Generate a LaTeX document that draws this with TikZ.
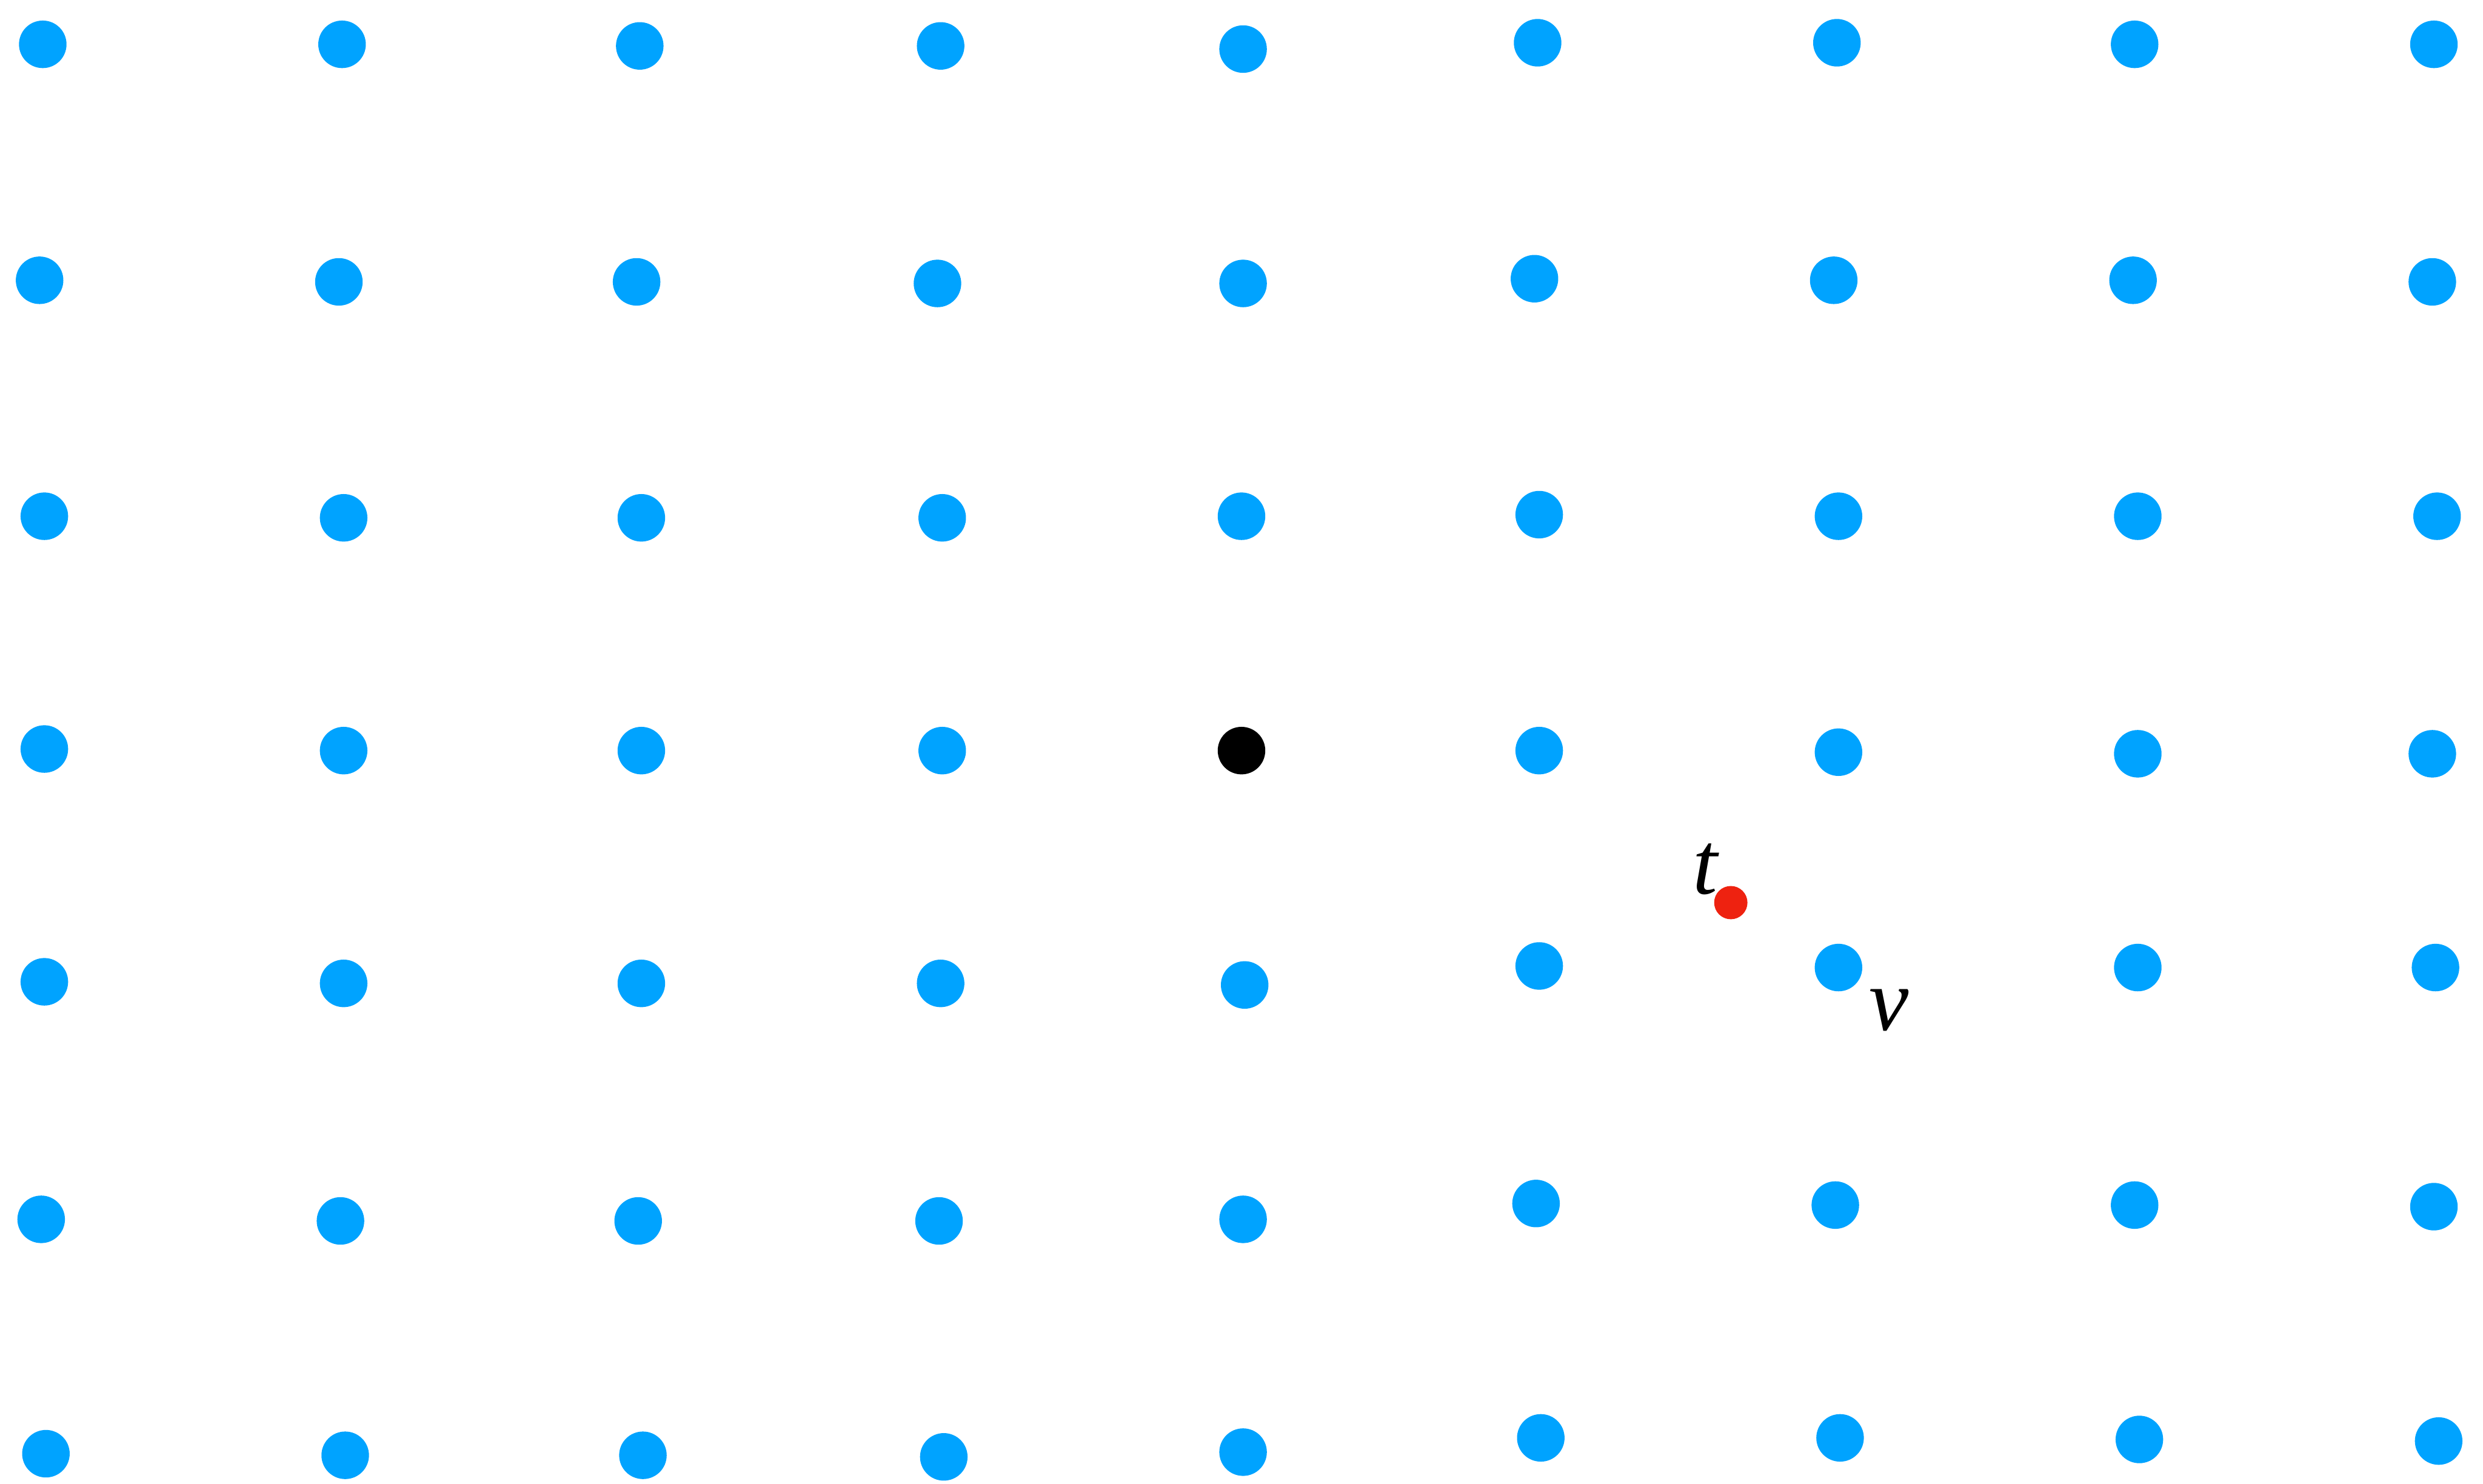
\documentclass[tikz,border=0pt]{standalone}
\usepackage{fontspec}
\setmainfont{Liberation Serif}
\definecolor{dotblue}{RGB}{0,163,255}
\definecolor{dotred}{RGB}{238,34,16}
\begin{document}
\begin{tikzpicture}[x=0.01cm,y=-0.01cm,
  bdot/.style={circle,fill=dotblue,inner sep=0pt,minimum size=0.30cm},
  kdot/.style={circle,fill=black,inner sep=0pt,minimum size=0.30cm},
  rdot/.style={circle,fill=dotred,inner sep=0pt,minimum size=0.21cm},
  lbl/.style={inner sep=0pt,font=\fontsize{16}{18}\selectfont\itshape}]
\useasboundingbox (0,0) rectangle (1568,937);
\foreach \n/\x/\y in {
 a1/27/28, a2/216/28, a3/404/29, a4/594/29, a5/785/31, a6/971/27, a7/1160/27, a8/1348/28, a9/1537/28,
 b1/25/177, b2/214/178, b3/402/178, b4/592/179, b5/785/179, b6/969/176, b7/1158/177, b8/1347/177, b9/1536/178,
 c1/28/326, c2/217/327, c3/405/327, c4/595/327, c5/784/326, c6/972/325, c7/1161/326, c8/1350/326, c9/1539/326,
 d1/28/473, d2/217/474, d3/405/474, d4/595/474, d6/972/474, d7/1161/475, d8/1350/476, d9/1536/476,
 e1/28/620, e2/217/621, e3/405/621, e4/594/621, e5/786/622, e6/972/610, e7/1161/611, e8/1350/611, e9/1538/611,
 f1/26/770, f2/215/771, f3/403/771, f4/593/771, f5/785/770, f6/970/760, f7/1159/761, f8/1348/761, f9/1537/762,
 g1/29/918, g2/218/919, g3/406/919, g4/596/920, g5/785/917, g6/973/908, g7/1162/908, g8/1351/909, g9/1540/910}
  \node[bdot] (\n) at (\x,\y) {};
\node[kdot] (d5) at (784,474) {};
\node[rdot] (t) at (1093,570) {};
\node[lbl] (tlabel) at (1077,549) {t};
\node[lbl] (vlabel) at (1193,638) {v};
\end{tikzpicture}
\end{document}
